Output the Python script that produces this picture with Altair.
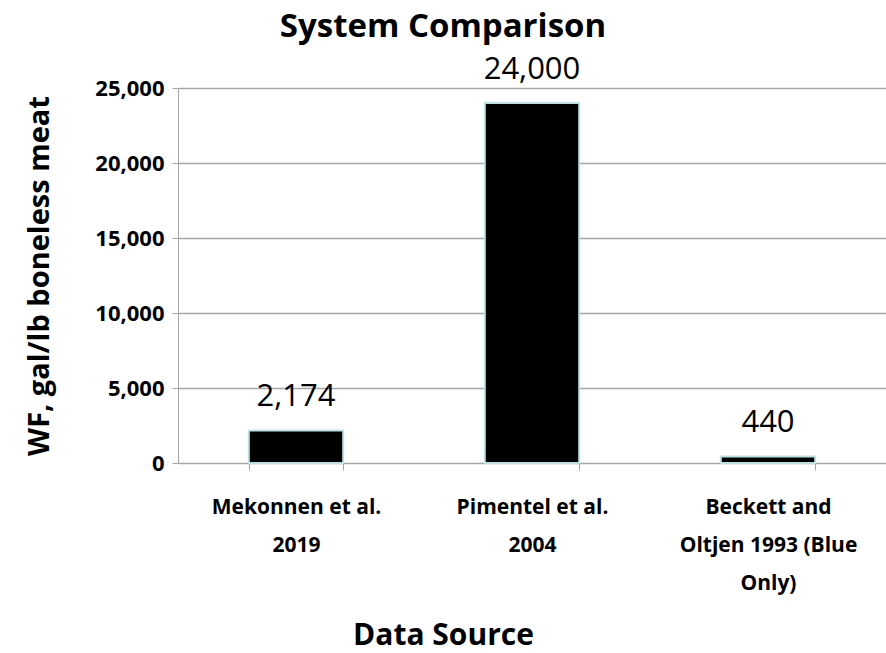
import altair as alt
import pandas as pd

# Water footprint by data source (gal/lb boneless meat)
sources = [
    "Mekonnen et al.|2019",
    "Pimentel et al.|2004",
    "Beckett and|Oltjen 1993 (Blue|Only)",
]
values = [2174, 24000, 440]
labels = ["2,174", "24,000", "440"]

df = pd.DataFrame({"source": sources, "wf": values, "label": labels})

FONT = "Open Sans"

base = alt.Chart(df).encode(
    x=alt.X(
        "source:N",
        sort=sources,
        scale=alt.Scale(paddingInner=0.6, paddingOuter=0.3),
        axis=alt.Axis(
            title="Data Source",
            titleFont=FONT,
            titleFontSize=30,
            titleFontWeight="bold",
            titleColor="black",
            titleBaseline="alphabetic",
            titleY=181,
            titleX=265,
            labelExpr="split(datum.label, '|')",
            labelFont=FONT,
            labelFontSize=21,
            labelFontWeight="bold",
            labelColor="black",
            labelLineHeight=38,
            labelPadding=26,
            labelAngle=0,
            tickBand="extent",
            tickColor="#a6a6a6",
            tickSize=7,
            domainColor="#a6a6a6",
            labelLimit=300,
        ),
    ),
)

bars = base.mark_bar(color="black", stroke="#b9e3e3", strokeWidth=2).encode(
    y=alt.Y(
        "wf:Q",
        scale=alt.Scale(domain=[0, 25000], nice=False),
        axis=alt.Axis(
            title="WF, gal/lb boneless meat",
            titleFont=FONT,
            titleFontSize=29,
            titleFontWeight="bold",
            titleColor="black",
            titleX=-124,
            values=[0, 5000, 10000, 15000, 20000, 25000],
            format=",.0f",
            labelFont=FONT,
            labelFontSize=22,
            labelFontWeight="bold",
            labelColor="black",
            labelPadding=8,
            tickColor="#a6a6a6",
            tickSize=6,
            domainColor="#a6a6a6",
            gridColor="#a6a6a6",
            gridWidth=1.3,
        ),
    )
)

text = base.mark_text(
    baseline="bottom", dy=-17, font=FONT, fontSize=31, color="black"
).encode(y="wf:Q", text="label:N")

chart = (
    (bars + text)
    .properties(
        width=708,
        height=375,
        title=alt.TitleParams(
            "System Comparison",
            font=FONT,
            fontSize=33,
            fontWeight="bold",
            color="black",
            anchor="middle",
            dx=-89,
            offset=10,
        ),
        autosize=alt.AutoSizeParams(type="none"),
        padding={"left": 178, "top": 88, "right": 0, "bottom": 190},
    )
    .configure_view(stroke=None)
    .configure(background="white")
)

chart.save("out.html", embed_options={"renderer": "svg", "actions": False})
